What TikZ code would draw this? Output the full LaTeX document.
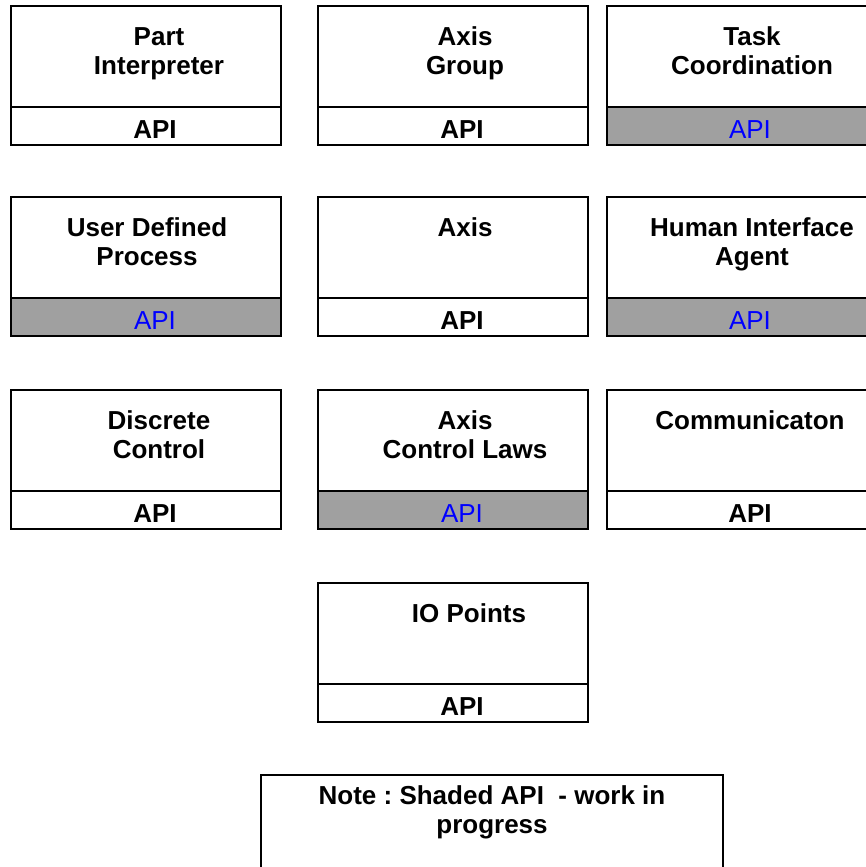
\documentclass[tikz,border=0pt]{standalone}
\usepackage{fontspec}
\setmainfont{Liberation Sans}
\frenchspacing
\definecolor{wipgray}{RGB}{160,160,160}
\definecolor{wipblue}{RGB}{0,0,255}

% #1 name, #2 left x, #3 top y, #4 title centre x, #5 title lines,
% #6 API style (done/wip), #7 API text centre x
\newcommand\modulebox[7]{%
  \node[panel] (#1) at (#2,#3) {};
  \node[api#6] (#1-api) at (#1.south west) {};
  \node[title] (#1-title) at (#4,#3+18.7) {#5};
  \node[apitext#6] (#1-apitext) at (#7,#3+132) {API};
}

\begin{document}
\begin{tikzpicture}[x=1pt,y=-1pt,
  panel/.style={draw=black, line width=2pt, fill=white, minimum width=270pt,
    minimum height=101pt, anchor=north west, inner sep=0pt, outer sep=0pt},
  apidone/.style={panel, minimum height=38pt},
  apiwip/.style={apidone, fill=wipgray},
  title/.style={font=\bfseries\fontsize{26}{29}\selectfont, align=center,
    anchor=north, inner sep=0pt},
  apitextdone/.style={font=\bfseries\fontsize{26}{29}\selectfont,
    anchor=base, inner sep=0pt},
  apitextwip/.style={font=\fontsize{26}{29}\selectfont, text=wipblue,
    anchor=base, inner sep=0pt}]

\useasboundingbox (0,0) rectangle (866,867);
\clip (0,0) rectangle (866,867);

% first row
\modulebox{part}{11}{6}{159}{\strut Part\\\strut Interpreter}{done}{155}
\modulebox{group}{318}{6}{465}{\strut Axis\\\strut Group}{done}{462}
\modulebox{task}{607}{6}{752}{\strut Task\\\strut Coordination}{wip}{750}

% second row
\modulebox{user}{11}{197}{147}{\strut User Defined\\\strut Process}{wip}{155}
\modulebox{axis}{318}{197}{465}{\strut Axis}{done}{462}
\modulebox{human}{607}{197}{752}{\strut Human Interface\\\strut Agent}{wip}{750}

% third row
\modulebox{discrete}{11}{390}{159}{\strut Discrete\\\strut Control}{done}{155}
\modulebox{laws}{318}{390}{465}{\strut Axis\\\strut Control Laws}{wip}{462}
\modulebox{comm}{607}{390}{750}{\strut Communicaton}{done}{750}

% fourth row
\modulebox{io}{318}{583}{469}{\strut IO Points}{done}{462}

% legend
\node[panel, minimum width=462pt, minimum height=120pt] (note) at (261,775) {};
\node[title] (note-text) at (492,783.7)
  {\strut Note : Shaded API \ - work in\\\strut progress};

\end{tikzpicture}
\end{document}
